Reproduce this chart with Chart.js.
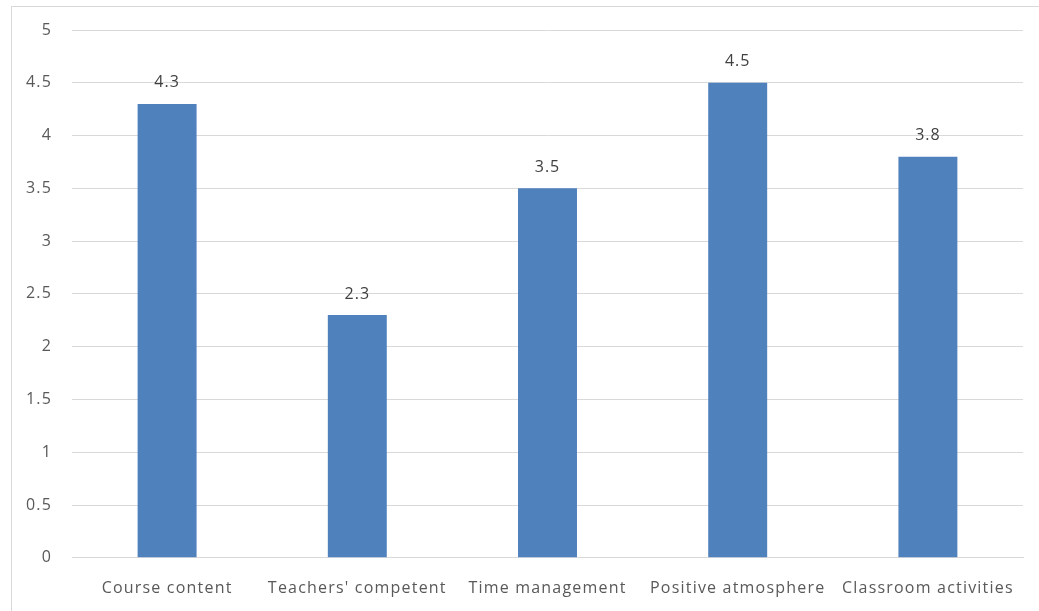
<!DOCTYPE html>
<html>
<head>
<meta charset="utf-8">
<script src="https://cdn.jsdelivr.net/npm/chart.js@4/dist/chart.umd.min.js"></script>
<style>
  html, body { margin: 0; padding: 0; background: #fff; }
  #wrap { position: relative; width: 1039px; height: 611px; }
  #frame { position: absolute; left: 11px; top: 6px; width: 1040px; height: 620px; border-left: 1px solid #d9d9d9; border-top: 1px solid #d9d9d9; }
  canvas { position: absolute; left: 0; top: 0; }
</style>
</head>
<body>
<div id="wrap">
  <div id="frame"></div>
  <canvas id="myChart" width="1039" height="611"></canvas>
</div>
<script>
var categories = ['Course content', "Teachers' competent", 'Time management', 'Positive atmosphere', 'Classroom activities'];
var scores = [4.3, 2.3, 3.5, 4.5, 3.8];
var yTicks = [0, 0.5, 1, 1.5, 2, 2.5, 3, 3.5, 4, 4.5, 5];

// a bit of letter spacing, like the original's font
var spacing = {
    id: 'spacing',
    beforeDraw: function(chart) {
        chart.ctx.letterSpacing = '1.2px';
    }
};

// value labels above each bar
var barLabels = {
    id: 'barLabels',
    afterDatasetsDraw: function(chart) {
        var c = chart.ctx;
        var meta = chart.getDatasetMeta(0);
        c.save();
        c.letterSpacing = '1px';
        c.font = '16px "Open Sans", sans-serif';
        c.fillStyle = '#404040';
        c.textAlign = 'center';
        c.textBaseline = 'middle';
        meta.data.forEach(function(bar, i) {
            c.fillText(String(scores[i]), bar.x, bar.y - 21);
        });
        c.restore();
    }
};

var ctx = document.getElementById('myChart').getContext('2d');
var myChart = new Chart(ctx, {
    type: 'bar',
    data: {
        labels: categories,
        datasets: [{
            data: scores,
            backgroundColor: '#4f81bd',
            barPercentage: 0.31,
            categoryPercentage: 1
        }]
    },
    options: {
        responsive: false,
        animation: false,
        layout: {
            padding: { top: 30, right: 16, bottom: 0, left: 10 }
        },
        plugins: {
            legend: { display: false },
            tooltip: { enabled: false }
        },
        scales: {
            y: {
                min: 0,
                max: 5,
                afterBuildTicks: function(axis) {
                    axis.ticks = yTicks.map(function(v) { return { value: v }; });
                },
                afterFit: function(axis) { axis.width = 62; },
                grid: { color: '#d9d9d9', drawTicks: false },
                border: { display: false },
                ticks: {
                    color: '#595959',
                    padding: 20,
                    font: { family: '"Open Sans", sans-serif', size: 16 },
                    callback: function(v) { return String(v); }
                }
            },
            x: {
                grid: { display: false },
                border: { color: '#d9d9d9' },
                ticks: {
                    color: '#595959',
                    padding: 13,
                    maxRotation: 0,
                    font: { family: '"Open Sans", sans-serif', size: 16 }
                }
            }
        }
    },
    plugins: [spacing, barLabels]
});
</script>
</body>
</html>
